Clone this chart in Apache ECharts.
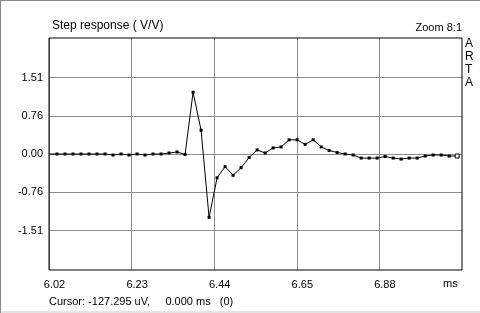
<!DOCTYPE html>
<html>
<head>
<meta charset="utf-8">
<script src="https://cdn.jsdelivr.net/npm/echarts@6/dist/echarts.min.js"></script>
<style>
html,body{margin:0;padding:0;background:#fff;}
#c{width:480px;height:313px;position:relative;box-sizing:border-box;}
#c:before{content:"";position:absolute;left:0;top:0;right:0;height:1px;background:#8a8a8a;z-index:5;}
#c:after{content:"";position:absolute;left:0;top:0;bottom:0;width:1px;background:#8a8a8a;z-index:5;}
#bb{position:absolute;left:0;right:0;top:311px;height:2px;background:#e4e4e4;}
</style>
</head>
<body>
<div id="c"></div>
<div id="bb"></div>
<script>
// Step response samples (V/V), one per sample index
const stepValues = [
  0.00, 0.00, 0.00, 0.00, 0.00, 0.00, 0.00, 0.00, -0.02, 0.00,
  -0.02, 0.00, -0.02, 0.00, 0.00, 0.02, 0.04, -0.01, 1.22, 0.47,
  -1.25, -0.47, -0.25, -0.42, -0.27, -0.07, 0.08, 0.02, 0.12, 0.14,
  0.28, 0.28, 0.19, 0.28, 0.14, 0.07, 0.03, 0.00, -0.02, -0.08,
  -0.08, -0.08, -0.05, -0.08, -0.10, -0.08, -0.08, -0.04, -0.02, -0.02,
  -0.04, -0.04
];
const xTickLabels = ['6.02', '6.23', '6.44', '6.65', '6.88'];
const yTickValues = [-1.51, -0.755, 0, 0.755, 1.51];
const yTickLabels = ['-1.51', '-0.76', '0.00', '0.76', '1.51'];

const X_MAX = 51.6;
const X_DIV = X_MAX / 5;
const xTickValues = xTickLabels.map((_, i) => i * X_DIV);

const FONT = '"Liberation Sans", Arial, sans-serif';

const data = stepValues.map((v, i) => {
  const item = { value: [i, v] };
  if (i === 0) item.symbolSize = 0;
  if (i === stepValues.length - 1) {
    item.symbolSize = 4;
    item.itemStyle = { color: '#fff', borderColor: '#000', borderWidth: 1 };
  }
  return item;
});

const chart = echarts.init(document.getElementById('c'), null, { renderer: 'canvas' });
chart.setOption({
  animation: false,
  backgroundColor: '#fff',
  grid: { left: 49, top: 38, right: 18, bottom: 43, show: true, borderColor: '#000', borderWidth: 1, backgroundColor: 'transparent', z: 10 },
  xAxis: {
    type: 'value', min: 0, max: X_MAX,
    axisLine: { show: false },
    axisTick: { show: false, customValues: xTickValues },
    splitLine: { show: true, lineStyle: { color: '#8c8c8c', width: 1 } },
    axisLabel: {
      customValues: xTickValues,
      margin: 9,
      padding: [0, 0, 0, 11],
      color: '#000', fontSize: 11, fontFamily: FONT,
      formatter: (v) => { const i = Math.round(v / X_DIV); return xTickLabels[i] || ''; }
    }
  },
  yAxis: {
    type: 'value', min: -2.29, max: 2.29,
    axisLine: { show: false },
    axisTick: { show: false, customValues: yTickValues },
    splitLine: { show: true, lineStyle: { color: '#8c8c8c', width: 1 } },
    axisLabel: {
      customValues: yTickValues,
      margin: 6,
      color: '#000', fontSize: 11, fontFamily: FONT,
      formatter: (v) => { const i = yTickValues.findIndex(t => Math.abs(t - v) < 1e-6); return i >= 0 ? yTickLabels[i] : ''; }
    }
  },
  series: [{
    type: 'line',
    data: data,
    symbol: 'rect',
    symbolSize: 3,
    showAllSymbol: true,
    lineStyle: { color: '#000', width: 1 },
    itemStyle: { color: '#000' },
    z: 5
  }],
  graphic: [
    { type: 'text', left: 52, top: 20, style: { text: 'Step response ( V/V)', fill: '#000', font: '12px ' + FONT } },
    { type: 'text', right: 18, top: 22, style: { text: 'Zoom 8:1', fill: '#000', font: '11px ' + FONT } },
    { type: 'text', left: 465, top: 37, style: { text: 'A\nR\nT\nA', fill: '#000', font: '12px ' + FONT, lineHeight: 13, align: 'left' } },
    { type: 'text', left: 443, top: 278, style: { text: 'ms', fill: '#000', font: '11px ' + FONT } },
    { type: 'text', left: 49, top: 296, style: { text: 'Cursor: -127.295 uV,     0.000 ms   (0)', fill: '#000', font: '11px ' + FONT } }
  ]
});
</script>
</body>
</html>
